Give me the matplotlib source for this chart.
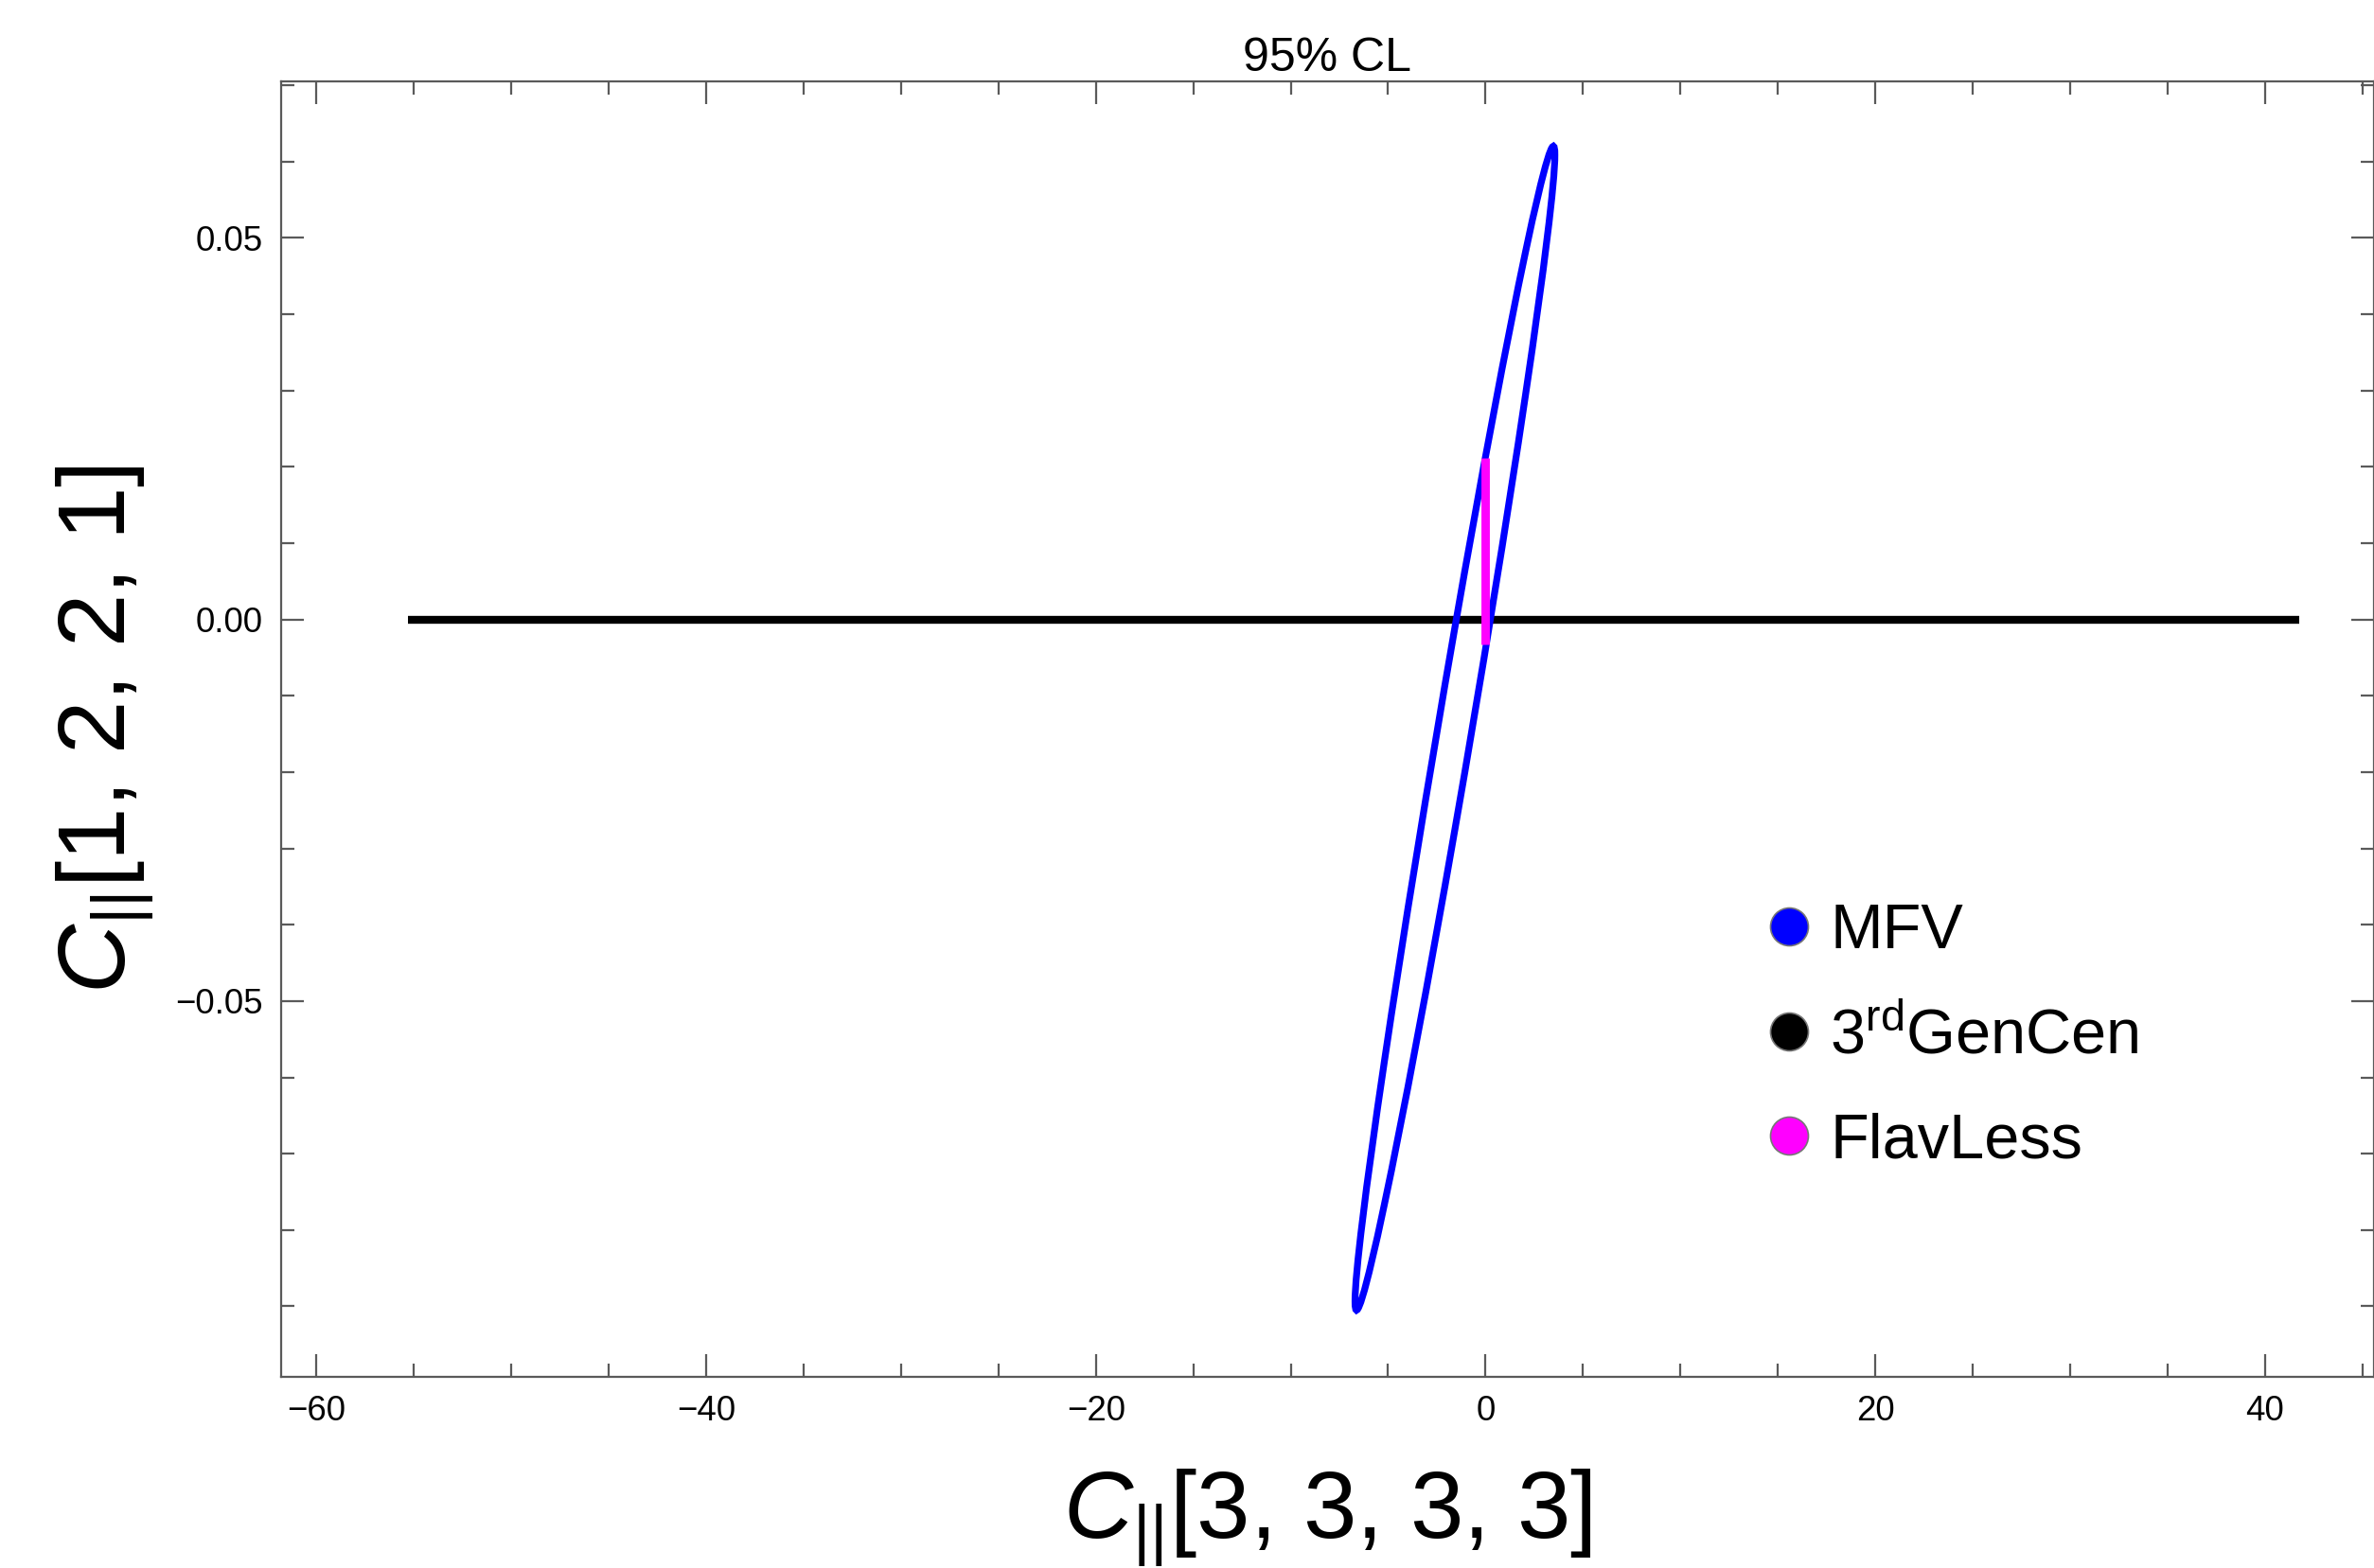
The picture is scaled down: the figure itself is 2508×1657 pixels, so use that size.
import numpy as np
import matplotlib
matplotlib.use("Agg")
import matplotlib.pyplot as plt
from matplotlib.patches import Ellipse
from matplotlib.lines import Line2D
from matplotlib.ticker import MultipleLocator, FuncFormatter

plt.rcParams["font.family"] = ["Liberation Sans", "DejaVu Sans"]
plt.rcParams["mathtext.fontset"] = "custom"
plt.rcParams["mathtext.rm"] = "Liberation Sans"
plt.rcParams["mathtext.it"] = "Liberation Sans:italic"

# --- values ------------------------------------------------------------
# MFV 95% CL region: centre and shape matrix of the ellipse
mfv_center = [-1.57, -0.01425]
mfv_shape = [[26.30, 0.3851],
             [0.3851, 0.005814]]

# 3rd GenCen: allowed segment along C[1,2,2,1] = 0
gencen_x = [-55.3, 41.75]
gencen_y = [0.0, 0.0]

# FlavLess: allowed segment along C[3,3,3,3] = 0
flavless_x = [0.0, 0.0]
flavless_y = [-0.0033, 0.0211]

series_names = ["MFV", "3$^{\\mathrm{rd}}$GenCen", "FlavLess"]
series_colors = ["#0000ff", "#000000", "#ff00ff"]

x_limits = (-61.83, 45.6)
y_limits = (-0.0992, 0.0705)

frame_color = "#5a5a5a"

fig = plt.figure(figsize=(12.54, 8.285), dpi=200)
ax = fig.add_axes([0.1183, 0.1221, 1.0 - 0.1183, 0.9481 - 0.1221])

# MFV ellipse
vals, vecs = np.linalg.eigh(np.array(mfv_shape))
major = vecs[:, 1]
angle = np.degrees(np.arctan2(major[1], major[0]))
ell = Ellipse(mfv_center, width=2 * np.sqrt(vals[1]), height=2 * np.sqrt(vals[0]),
              angle=angle, fill=False, edgecolor=series_colors[0], lw=2.6, zorder=3)
ax.add_patch(ell)

ax.plot(gencen_x, gencen_y, color=series_colors[1], lw=3.0,
        solid_capstyle="butt", zorder=2)
ax.plot(flavless_x, flavless_y, color=series_colors[2], lw=3.2,
        solid_capstyle="butt", zorder=4)

ax.set_xlim(*x_limits)
ax.set_ylim(*y_limits)

ax.xaxis.set_major_locator(MultipleLocator(20))
ax.xaxis.set_minor_locator(MultipleLocator(5))
ax.yaxis.set_major_locator(MultipleLocator(0.05))
ax.yaxis.set_minor_locator(MultipleLocator(0.01))
ax.xaxis.set_major_formatter(FuncFormatter(lambda v, p: f"{v:.0f}".replace("-", "\u2212")))
ax.yaxis.set_major_formatter(FuncFormatter(lambda v, p: f"{v:.2f}".replace("-", "\u2212")))

ax.tick_params(which="both", direction="in", top=True, right=True,
               color=frame_color, width=0.8, labelsize=13.2, labelcolor="black")
ax.tick_params(which="major", length=8.5, pad=7)
ax.tick_params(which="minor", length=5)
for sp in ax.spines.values():
    sp.set_color(frame_color)
    sp.set_linewidth(0.8)

ax.set_title("95% CL", fontsize=18, pad=4)

ax.set_xlabel("$C_{\\mathrm{||}}$[3, 3, 3, 3]", fontsize=36.5)
ax.xaxis.set_label_coords(0.5, -0.070)
ax.set_ylabel("$C_{\\mathrm{||}}$[1, 2, 2, 1]", fontsize=36.5)
ax.yaxis.set_label_coords(-0.059, 0.5)

handles = [Line2D([], [], ls="none", marker="o", markersize=14.4,
                  markerfacecolor=c, markeredgecolor="#777777", markeredgewidth=0.6)
           for c in series_colors]
fig.legend(handles, series_names, loc="upper left", bbox_to_anchor=(0.7456, 0.424),
           frameon=False, fontsize=24, handlelength=0.6, handletextpad=0.35,
           labelspacing=0.72, borderpad=0, borderaxespad=0)

fig.savefig("out.png", dpi=200)
